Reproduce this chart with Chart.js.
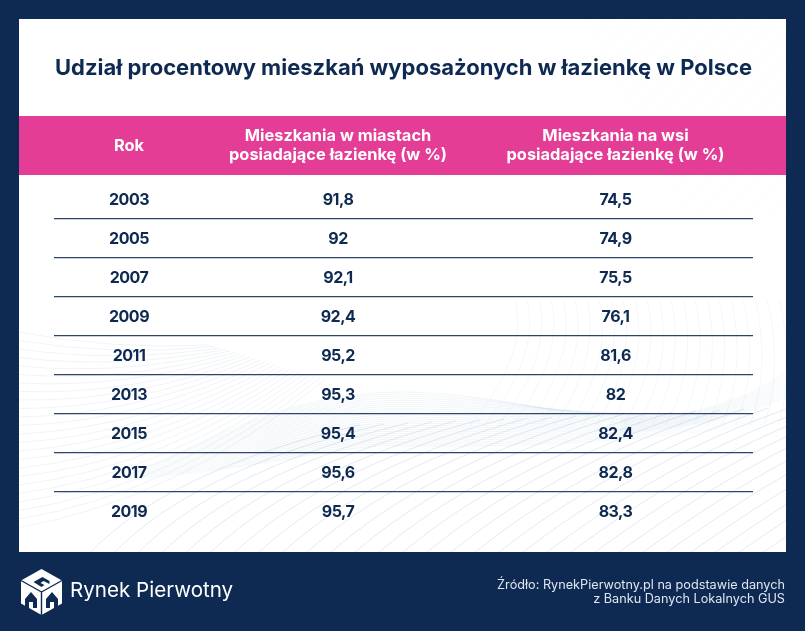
<!DOCTYPE html>
<html lang="pl">
<head>
<meta charset="utf-8">
<title>Udział procentowy mieszkań wyposażonych w łazienkę w Polsce</title>
<script src="https://cdn.jsdelivr.net/npm/chart.js@4"></script>
<style>
  html, body { margin: 0; padding: 0; background: #0e2a52; }
  canvas { display: block; }
</style>
</head>
<body>
<canvas id="tabela" width="805" height="631"></canvas>
<script>
// Dane tabeli
const tytul = "Udział procentowy mieszkań wyposażonych w łazienkę w Polsce";
const naglowki = [
  ["Rok"],
  ["Mieszkania w miastach", "posiadające łazienkę (w %)"],
  ["Mieszkania na wsi", "posiadające łazienkę (w %)"],
];
const lata = ["2003", "2005", "2007", "2009", "2011", "2013", "2015", "2017", "2019"];
const miasta = [91.8, 92, 92.1, 92.4, 95.2, 95.3, 95.4, 95.6, 95.7];
const wies = [74.5, 74.9, 75.5, 76.1, 81.6, 82, 82.4, 82.8, 83.3];
const zrodlo = ["Źródło: RynekPierwotny.pl na podstawie danych", "z Banku Danych Lokalnych GUS"];
const marka = "Rynek Pierwotny";

// Uklad i kolory
const GRANAT = "#0e2a52";
const ROZ = "#e33d96";
const LINIA = "#2f4568";
const FONT = "Inter, sans-serif";
const KOLUMNY = [75, 284, 561.5]; // srodki kolumn na osi x

const formatuj = (v) => String(v).replace(".", ",");
const lerp = (a, b, t) => a + (b - a) * t;

function tekst(c, str, x, y, font, kolor, align, spacing) {
  c.font = font;
  c.fillStyle = kolor;
  c.textAlign = align || "center";
  c.textBaseline = "middle";
  c.letterSpacing = spacing || "0px";
  c.fillText(str, x, y);
  c.letterSpacing = "0px";
}

// Dekoracja panelu: cienkie, blade linie
function fale(c) {
  c.lineWidth = 0.6;

  // ukosne luki od dolu panelu
  c.strokeStyle = "rgba(140,170,195,0.42)";
  for (let i = 0; i < 36; i++) {
    c.beginPath();
    c.moveTo(90 + i * 24, 553);
    c.bezierCurveTo(140 + i * 25, 500, 230 + i * 25, 455 - i * 0.5, 360 + i * 24, 425 - i);
    c.stroke();
  }

  // niemal pionowe luki po prawej
  c.strokeStyle = "rgba(140,170,195,0.16)";
  for (let i = 0; i < 24; i++) {
    c.beginPath();
    c.moveTo(515 + i * 12, 300);
    c.bezierCurveTo(525 + i * 12, 340, 505 + i * 13, 385, 470 + i * 14, 425);
    c.stroke();
  }

  // kreskowanie w prawym gornym rogu
  c.strokeStyle = "rgba(140,170,195,0.07)";
  for (let i = 0; i < 20; i++) {
    c.beginPath();
    c.moveTo(590 + i * 12, 20);
    c.lineTo(690 + i * 12, 215);
    c.stroke();
  }

  // wachlarz od lewej krawedzi
  c.strokeStyle = "rgba(140,170,195,0.22)";
  for (let i = 0; i < 24; i++) {
    c.beginPath();
    c.moveTo(19, 332 + i * 8.5);
    c.quadraticCurveTo(110 + i * 3, 350 + i * 6.5, 210 + i * 5, 345 + i * 1.5);
    c.stroke();
  }

  // garb posrodku, ogon wygaszony w lewo
  const grad = c.createLinearGradient(120, 0, 786, 0);
  grad.addColorStop(0, "rgba(150,185,210,0)");
  grad.addColorStop(0.25, "rgba(150,185,210,0.24)");
  grad.addColorStop(0.65, "rgba(150,185,210,0.2)");
  grad.addColorStop(1, "rgba(150,185,210,0.05)");
  c.strokeStyle = grad;
  const n = 26;
  for (let i = 0; i <= n; i++) {
    const t = i / n;
    c.beginPath();
    c.moveTo(120, 480);
    c.bezierCurveTo(lerp(220, 250, t), lerp(432, 472, t), lerp(300, 350, t), lerp(392, 442, t), 400, lerp(392, 446, t));
    c.bezierCurveTo(lerp(460, 520, t), lerp(392, 448, t), lerp(520, 680, t), lerp(404, 440, t), lerp(555, 786, t), lerp(411, 418, t));
    c.stroke();
  }

  // pasmo przy prawej krawedzi
  c.strokeStyle = "rgba(150,185,210,0.14)";
  for (let i = 0; i < 14; i++) {
    c.beginPath();
    c.moveTo(786, 372 + i * 2);
    c.bezierCurveTo(740, 402 + i, 700, 416 + i * 0.8, 620, 418 + i * 1.2);
    c.stroke();
  }
}

// Tlo: ramka, panel, fale i rozowy pasek
const tloPlugin = {
  id: "tlo",
  beforeDraw(chart) {
    const c = chart.ctx;
    c.save();
    c.fillStyle = GRANAT;
    c.fillRect(0, 0, 805, 631);
    c.fillStyle = "#ffffff";
    c.fillRect(19, 19, 767, 533);

    c.beginPath();
    c.rect(19, 19, 767, 533);
    c.clip();
    fale(c);
    c.restore();

    c.fillStyle = ROZ;
    c.fillRect(19, 116, 767, 59);
  },
  afterDatasetsDraw(chart) {
    const c = chart.ctx;
    const x = chart.scales.x;

    tekst(c, tytul, 403.5, 68.5, "700 22px " + FONT, GRANAT);

    // naglowki kolumn
    naglowki.forEach((linie, k) => {
      const px = x.getPixelForValue(KOLUMNY[k]);
      linie.forEach((l, i) => {
        const y = 146 + (i - (linie.length - 1) / 2) * 19;
        tekst(c, l, px, y, "700 16.4px " + FONT, "#ffffff");
      });
    });

    // komorki wedlug pozycji punktow
    chart.data.datasets.forEach((ds, d) => {
      chart.getDatasetMeta(d).data.forEach((pt, i) => {
        tekst(c, ds.etykiety[i], pt.x, pt.y + 1, "700 16px " + FONT, GRANAT, "center", "-0.5px");
      });
    });

    // stopka
    tekst(c, zrodlo[0], 785, 585, "400 12.7px " + FONT, "#dfe6ef", "right");
    tekst(c, zrodlo[1], 785, 599.5, "400 12.7px " + FONT, "#dfe6ef", "right");
    tekst(c, marka, 70, 591, "400 20.6px " + FONT, "#ffffff", "left");
    logo(c, 41.5, 592);
  },
};

// Logo: kostka z trzema domkami
function logo(c, cx, cy) {
  c.save();
  c.translate(cx, cy);
  c.fillStyle = "#ffffff";
  c.strokeStyle = GRANAT;
  c.lineJoin = "round";
  c.beginPath();
  c.moveTo(0, -23);
  c.lineTo(20.5, -11.5);
  c.lineTo(20.5, 11.5);
  c.lineTo(0, 23);
  c.lineTo(-20.5, 11.5);
  c.lineTo(-20.5, -11.5);
  c.closePath();
  c.fill();
  c.lineWidth = 1.4;
  c.beginPath();
  c.moveTo(-20.5, -11.5);
  c.lineTo(0, 0);
  c.lineTo(20.5, -11.5);
  c.moveTo(0, 0);
  c.lineTo(0, 23);
  c.stroke();
  c.fillStyle = GRANAT;
  const domek = (dx, dy) => {
    c.beginPath();
    c.moveTo(dx, dy - 8);
    c.lineTo(dx + 6, dy - 1);
    c.lineTo(dx + 6, dy + 8);
    c.lineTo(dx + 2, dy + 8);
    c.lineTo(dx + 2, dy + 2);
    c.lineTo(dx - 2, dy + 2);
    c.lineTo(dx - 2, dy + 8);
    c.lineTo(dx - 6, dy + 8);
    c.lineTo(dx - 6, dy - 1);
    c.closePath();
    c.fill();
  };
  domek(-10.5, 8);
  domek(10.5, 8);
  c.beginPath();
  c.moveTo(-8, -10);
  c.lineTo(1, -15);
  c.lineTo(8, -11);
  c.lineTo(8, -8);
  c.lineTo(2, -11);
  c.lineTo(-1, -9);
  c.lineTo(3, -7);
  c.lineTo(0, -5);
  c.closePath();
  c.fill();
  c.restore();
}

const kolumna = (k, wartosci, etykiety) => ({
  label: naglowki[k].join(" "),
  data: wartosci.map((_, i) => ({ x: KOLUMNY[k], y: lata[i] })),
  etykiety: etykiety,
  pointRadius: 0,
  showLine: false,
});

new Chart(document.getElementById("tabela").getContext("2d"), {
  type: "scatter",
  data: {
    datasets: [
      kolumna(0, lata, lata),
      kolumna(1, miasta, miasta.map(formatuj)),
      kolumna(2, wies, wies.map(formatuj)),
    ],
  },
  plugins: [tloPlugin],
  options: {
    responsive: false,
    animation: false,
    layout: { padding: { left: 54, right: 52, top: 179.5, bottom: 100.5 } },
    plugins: { legend: { display: false }, tooltip: { enabled: false } },
    scales: {
      x: { type: "linear", min: 0, max: 699, display: false },
      y: {
        type: "category",
        labels: lata,
        offset: true,
        border: { display: false },
        ticks: { display: false },
        grid: {
          offset: true,
          drawTicks: false,
          lineWidth: 1.2,
          // bez linii na gorze i dole tabeli
          color: (ctx) => (ctx.type === "tick" && ctx.index > 0 ? LINIA : "transparent"),
        },
      },
    },
  },
});
</script>
</body>
</html>
